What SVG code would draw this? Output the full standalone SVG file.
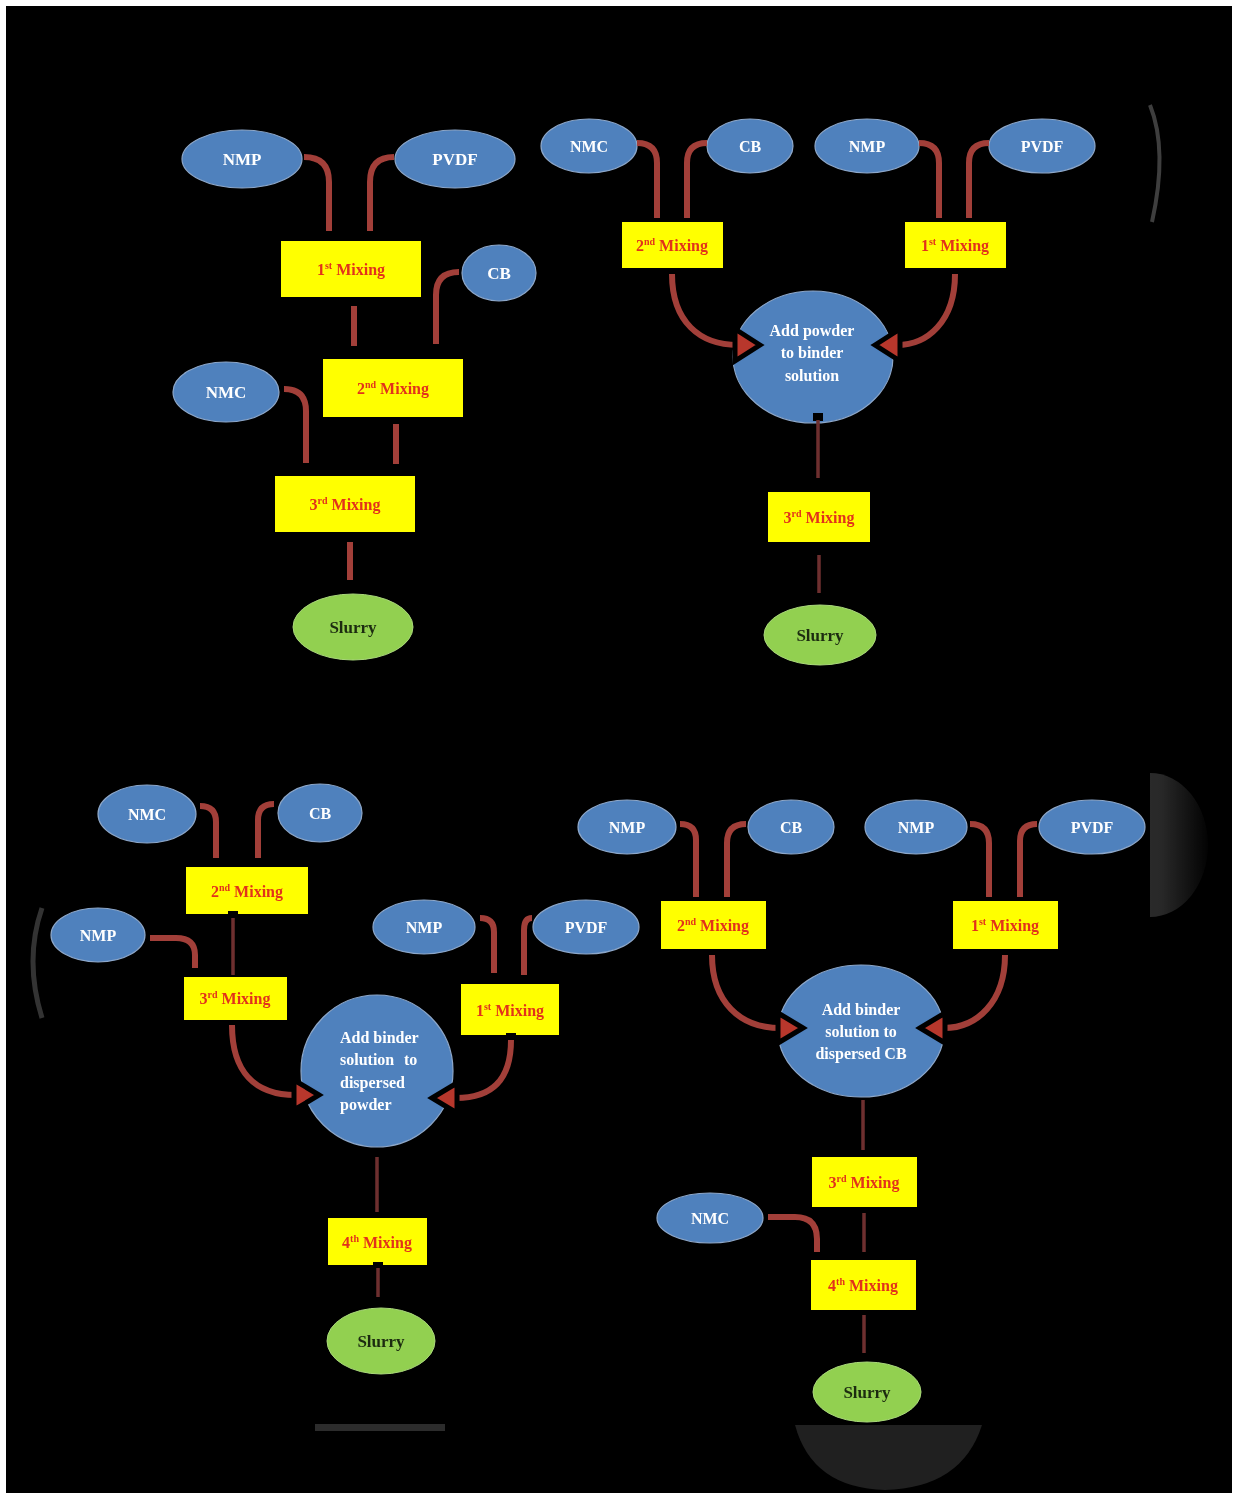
<svg xmlns="http://www.w3.org/2000/svg" width="1238" height="1499" viewBox="0 0 1238 1499">
<defs>
<style>
.ell{fill:#4f81bd;stroke:#8da7c9;stroke-width:1.2}
.box{fill:#ffff00}
.slurry{fill:#92d050;stroke:#a9d77a;stroke-width:1}
.lbl{font-family:"Liberation Serif","Times New Roman",serif;font-weight:bold;font-size:16px;fill:#ffffff;text-anchor:middle}
.big{font-size:17px}
.mix{font-family:"Liberation Serif","Times New Roman",serif;font-weight:bold;font-size:16px;fill:#e2321b;text-anchor:middle}
.slt{font-family:"Liberation Serif","Times New Roman",serif;font-weight:bold;font-size:17px;fill:#1c2b10;text-anchor:middle}
.sup{font-size:10px}
.con{fill:none;stroke:#a23f39;stroke-width:6;stroke-linecap:butt}
.thin{fill:none;stroke:#6e2f2f;stroke-width:3.5}
.head{fill:#b8372c;stroke:#000000;stroke-width:5;stroke-linejoin:miter}
.arr{fill:none;stroke:#a23f39;stroke-width:6}
.sq{fill:#000000}
</style>
<linearGradient id="g1" x1="0" y1="0" x2="1" y2="0">
<stop offset="0" stop-color="#4a4a4a"/><stop offset="0.6" stop-color="#3a3a3a"/><stop offset="1" stop-color="#050505"/>
</linearGradient>
<clipPath id="cr"><rect x="1150" y="0" width="88" height="1499"/></clipPath>
</defs>
<rect x="0" y="0" width="1238" height="1499" fill="#ffffff"/>
<rect x="6" y="6" width="1226" height="1487" fill="#000000"/>
<g id="artifacts" opacity="0.7">
<path d="M1150,105 Q1168,150 1152,222" fill="none" stroke="#5a5a5a" stroke-width="4"/>
<ellipse cx="1150" cy="845" rx="58" ry="72" fill="url(#g1)" clip-path="url(#cr)"/>
<path d="M795,1425 L982,1425 Q962,1488 885,1490 Q812,1488 795,1425 Z" fill="#2e2e2e"/>
<rect x="315" y="1424" width="130" height="7" fill="#404040"/>
<path d="M42,908 Q24,960 42,1018" fill="none" stroke="#4a4a4a" stroke-width="5"/>
</g>

<!-- Panel 1 -->
<g id="p1-nmp"><ellipse class="ell" cx="242" cy="159" rx="60" ry="29"/><text class="lbl big" x="242" y="165">NMP</text></g>
<g id="p1-pvdf"><ellipse class="ell" cx="455" cy="159" rx="60" ry="29"/><text class="lbl big" x="455" y="165">PVDF</text></g>
<g id="p1-mix1"><rect class="box" x="281" y="241" width="140" height="56"/><text class="mix" x="351" y="275">1<tspan class="sup" dy="-6">st</tspan><tspan dy="6"> Mixing</tspan></text></g>
<g id="p1-cb"><ellipse class="ell" cx="499" cy="273" rx="37" ry="28"/><text class="lbl big" x="499" y="279">CB</text></g>
<g id="p1-mix2"><rect class="box" x="323" y="359" width="140" height="58"/><text class="mix" x="393" y="394">2<tspan class="sup" dy="-6">nd</tspan><tspan dy="6"> Mixing</tspan></text></g>
<g id="p1-nmc"><ellipse class="ell" cx="226" cy="392" rx="53" ry="30"/><text class="lbl big" x="226" y="398">NMC</text></g>
<g id="p1-mix3"><rect class="box" x="275" y="476" width="140" height="56"/><text class="mix" x="345" y="510">3<tspan class="sup" dy="-6">rd</tspan><tspan dy="6"> Mixing</tspan></text></g>
<g id="p1-slurry"><ellipse class="slurry" cx="353" cy="627" rx="60" ry="33"/><text class="slt" x="353" y="633">Slurry</text></g>

<!-- Panel 2 -->
<g id="p2-nmc"><ellipse class="ell" cx="589" cy="146" rx="48" ry="27"/><text class="lbl" x="589" y="152">NMC</text></g>
<g id="p2-cb"><ellipse class="ell" cx="750" cy="146" rx="43" ry="27"/><text class="lbl" x="750" y="152">CB</text></g>
<g id="p2-nmp"><ellipse class="ell" cx="867" cy="146" rx="52" ry="27"/><text class="lbl" x="867" y="152">NMP</text></g>
<g id="p2-pvdf"><ellipse class="ell" cx="1042" cy="146" rx="53" ry="27"/><text class="lbl" x="1042" y="152">PVDF</text></g>
<g id="p2-mix2"><rect class="box" x="622" y="222" width="101" height="46"/><text class="mix" x="672" y="251">2<tspan class="sup" dy="-6">nd</tspan><tspan dy="6"> Mixing</tspan></text></g>
<g id="p2-mix1"><rect class="box" x="905" y="222" width="101" height="46"/><text class="mix" x="955" y="251">1<tspan class="sup" dy="-6">st</tspan><tspan dy="6"> Mixing</tspan></text></g>
<g id="p2-add"><ellipse class="ell" cx="813" cy="357" rx="80" ry="66"/>
<text class="lbl" x="812" y="336">Add powder</text><text class="lbl" x="812" y="358">to binder</text><text class="lbl" x="812" y="381">solution</text></g>
<g id="p2-mix3"><rect class="box" x="768" y="492" width="102" height="50"/><text class="mix" x="819" y="523">3<tspan class="sup" dy="-6">rd</tspan><tspan dy="6"> Mixing</tspan></text></g>
<g id="p2-slurry"><ellipse class="slurry" cx="820" cy="635" rx="56" ry="30"/><text class="slt" x="820" y="641">Slurry</text></g>

<!-- Panel 3 -->
<g id="p3-nmc"><ellipse class="ell" cx="147" cy="814" rx="49" ry="29"/><text class="lbl" x="147" y="820">NMC</text></g>
<g id="p3-cb"><ellipse class="ell" cx="320" cy="813" rx="42" ry="29"/><text class="lbl" x="320" y="819">CB</text></g>
<g id="p3-mix2"><rect class="box" x="186" y="867" width="122" height="47"/><text class="mix" x="247" y="897">2<tspan class="sup" dy="-6">nd</tspan><tspan dy="6"> Mixing</tspan></text></g>
<g id="p3-nmp"><ellipse class="ell" cx="98" cy="935" rx="47" ry="27"/><text class="lbl" x="98" y="941">NMP</text></g>
<g id="p3-mix3"><rect class="box" x="184" y="977" width="103" height="43"/><text class="mix" x="235" y="1004">3<tspan class="sup" dy="-6">rd</tspan><tspan dy="6"> Mixing</tspan></text></g>
<g id="p3-nmp2"><ellipse class="ell" cx="424" cy="927" rx="51" ry="27"/><text class="lbl" x="424" y="933">NMP</text></g>
<g id="p3-pvdf"><ellipse class="ell" cx="586" cy="927" rx="53" ry="27"/><text class="lbl" x="586" y="933">PVDF</text></g>
<g id="p3-mix1"><rect class="box" x="461" y="984" width="98" height="51"/><text class="mix" x="510" y="1016">1<tspan class="sup" dy="-6">st</tspan><tspan dy="6"> Mixing</tspan></text></g>
<g id="p3-add"><ellipse class="ell" cx="377" cy="1071" rx="76" ry="76"/>
<text class="lbl" x="340" y="1043" style="text-anchor:start">Add binder</text>
<text class="lbl" x="340" y="1065" style="text-anchor:start">solution<tspan x="404">to</tspan></text>
<text class="lbl" x="340" y="1088" style="text-anchor:start">dispersed</text>
<text class="lbl" x="340" y="1110" style="text-anchor:start">powder</text></g>
<g id="p3-mix4"><rect class="box" x="328" y="1218" width="99" height="47"/><text class="mix" x="377" y="1248">4<tspan class="sup" dy="-6">th</tspan><tspan dy="6"> Mixing</tspan></text></g>
<g id="p3-slurry"><ellipse class="slurry" cx="381" cy="1341" rx="54" ry="33"/><text class="slt" x="381" y="1347">Slurry</text></g>

<!-- Panel 4 -->
<g id="p4-nmp"><ellipse class="ell" cx="627" cy="827" rx="49" ry="27"/><text class="lbl" x="627" y="833">NMP</text></g>
<g id="p4-cb"><ellipse class="ell" cx="791" cy="827" rx="43" ry="27"/><text class="lbl" x="791" y="833">CB</text></g>
<g id="p4-nmp2"><ellipse class="ell" cx="916" cy="827" rx="51" ry="27"/><text class="lbl" x="916" y="833">NMP</text></g>
<g id="p4-pvdf"><ellipse class="ell" cx="1092" cy="827" rx="53" ry="27"/><text class="lbl" x="1092" y="833">PVDF</text></g>
<g id="p4-mix2"><rect class="box" x="661" y="901" width="105" height="48"/><text class="mix" x="713" y="931">2<tspan class="sup" dy="-6">nd</tspan><tspan dy="6"> Mixing</tspan></text></g>
<g id="p4-mix1"><rect class="box" x="953" y="901" width="105" height="48"/><text class="mix" x="1005" y="931">1<tspan class="sup" dy="-6">st</tspan><tspan dy="6"> Mixing</tspan></text></g>
<g id="p4-add"><ellipse class="ell" cx="861" cy="1031" rx="83" ry="66"/>
<text class="lbl" x="861" y="1015">Add binder</text><text class="lbl" x="861" y="1037">solution to</text><text class="lbl" x="861" y="1059">dispersed CB</text></g>
<g id="p4-mix3"><rect class="box" x="812" y="1157" width="105" height="50"/><text class="mix" x="864" y="1188">3<tspan class="sup" dy="-6">rd</tspan><tspan dy="6"> Mixing</tspan></text></g>
<g id="p4-nmc"><ellipse class="ell" cx="710" cy="1218" rx="53" ry="25"/><text class="lbl" x="710" y="1224">NMC</text></g>
<g id="p4-mix4"><rect class="box" x="811" y="1260" width="105" height="50"/><text class="mix" x="863" y="1291">4<tspan class="sup" dy="-6">th</tspan><tspan dy="6"> Mixing</tspan></text></g>
<g id="p4-slurry"><ellipse class="slurry" cx="867" cy="1392" rx="54" ry="30"/><text class="slt" x="867" y="1398">Slurry</text></g>

<g id="connectors">
<!-- panel 1 -->
<path class="con" d="M304,157 Q329,157 329,182 V231"/>
<path class="con" d="M394,157 Q370,157 370,182 V231"/>
<path class="con" d="M354,306 V346"/>
<path class="con" d="M459,272 Q436,272 436,295 V344"/>
<path class="con" d="M284,389 Q306,389 306,411 V463"/>
<path class="con" d="M396,424 V464"/>
<path class="con" d="M350,542 V580"/>
<!-- panel 2 -->
<path class="con" d="M637,143 Q657,143 657,163 V218"/>
<path class="con" d="M707,143 Q687,143 687,163 V218"/>
<path class="con" d="M919,143 Q939,143 939,163 V218"/>
<path class="con" d="M989,143 Q969,143 969,163 V218"/>
<path class="arr" d="M672,274 C672,322 700,345 738,345"/>
<polygon class="head" points="760,345 735,329 735,361"/>
<path class="arr" d="M955,274 C955,322 927,345 897,345"/>
<polygon class="head" points="875,345 900,329 900,361"/>
<rect class="sq" x="813" y="413" width="10" height="8"/>
<path class="thin" d="M818,420 V478"/>
<path class="thin" d="M819,555 V593"/>
<!-- panel 3 -->
<path class="con" d="M200,806 Q216,806 216,822 V858"/>
<path class="con" d="M274,804 Q258,804 258,820 V858"/>
<rect class="sq" x="228" y="911" width="10" height="8"/>
<path class="thin" d="M233,918 V975"/>
<path class="con" d="M150,938 L176,938 Q195,938 195,955 V968"/>
<path class="arr" d="M232,1025 C232,1072 255,1095 296,1095"/>
<polygon class="head" points="319,1095 294,1080 294,1110"/>
<path class="con" d="M480,918 Q494,918 494,932 V973"/>
<path class="con" d="M532,918 Q524,918 524,930 V975"/>
<rect class="sq" x="506" y="1033" width="10" height="8"/>
<path class="arr" d="M511,1040 C511,1082 490,1098 456,1098"/>
<polygon class="head" points="432,1098 457,1083 457,1113"/>
<path class="thin" d="M377,1157 V1212"/>
<rect class="sq" x="373" y="1262" width="10" height="8"/>
<path class="thin" d="M378,1268 V1297"/>
<!-- panel 4 -->
<path class="con" d="M680,824 Q696,824 696,840 V897"/>
<path class="con" d="M746,824 Q727,824 727,843 V897"/>
<path class="con" d="M970,824 Q989,824 989,843 V897"/>
<path class="con" d="M1037,824 Q1020,824 1020,841 V897"/>
<path class="arr" d="M712,955 C712,1002 740,1028 780,1028"/>
<polygon class="head" points="803,1028 778,1013 778,1043"/>
<path class="arr" d="M1005,955 C1005,1002 977,1028 944,1028"/>
<polygon class="head" points="920,1028 945,1013 945,1043"/>
<path class="thin" d="M863,1100 V1150"/>
<path class="thin" d="M864,1213 V1252"/>
<path class="con" d="M768,1217 L795,1217 Q817,1217 817,1239 V1252"/>
<path class="thin" d="M864,1315 V1353"/>
</g>
</svg>
